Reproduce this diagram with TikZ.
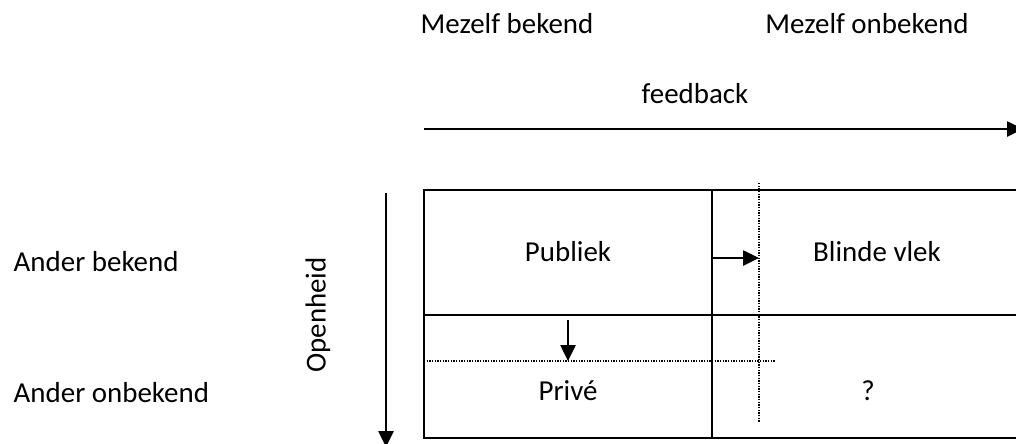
\documentclass[tikz,border=0pt]{standalone}
\usepackage{fontspec}
\setmainfont{Carlito}
\usetikzlibrary{arrows.meta, calc}

\begin{document}
\begin{tikzpicture}[x=0.75pt, y=-0.75pt, line width=1.1pt,
    every node/.style={inner sep=0pt, font=\fontsize{21.7}{26}\selectfont},
    pijl/.style={-{Triangle[length=12pt,width=11.5pt]}},
    stippel/.style={line width=1pt, dash pattern=on 1pt off 1pt}]
    \useasboundingbox (0,0) rectangle (1016,443);

    % kopjes
    \node (mezelfbekend) at (507,24) {Mezelf bekend};
    \node (mezelfonbekend) at (867,24) {Mezelf onbekend};
    \node (feedback) at (695,94) {feedback};
    \node[anchor=west] (anderbekend) at (13,262) {Ander bekend};
    \node[anchor=west] (anderonbekend) at (13,393) {Ander onbekend};
    \node[rotate=90] (openheid) at (318,315) {Openheid};

    % het venster
    \coordinate (lb) at (424,190);
    \coordinate (rb) at (1016,190);
    \coordinate (lm) at (424,315);
    \coordinate (rm) at (1016,315);
    \coordinate (lo) at (424,438);
    \coordinate (ro) at (1016,438);
    \coordinate (mb) at (712,190);
    \coordinate (mo) at (712,438);
    \draw (rb) -- (lb) -- (lo) -- (ro);
    \draw (lm) -- (rm);
    \draw (mb) -- (mo);

    \node (publiek) at (568,252) {Publiek};
    \node (blindevlek) at (877,252) {Blinde vlek};
    \node (prive) at (568,391) {Privé};
    \node (onbekend) at (868,391) {?};

    % verschoven grenzen
    \coordinate (sb) at (759,183);
    \coordinate (so) at (759,423);
    \coordinate (sl) at (424,361);
    \coordinate (sr) at (775,361);
    \draw[stippel] (sb) -- (so);
    \draw[stippel] (sl) -- (sr);

    % pijlen
    \coordinate (fbvan) at (424,129);
    \coordinate (fbnaar) at (1023,129);
    \coordinate (opvan) at (386,193);
    \coordinate (opnaar) at (386,447);
    \coordinate (rechtsvan) at (712,258);
    \coordinate (rechtsnaar) at (759,258);
    \coordinate (omlaagvan) at (568,320);
    \coordinate (omlaagnaar) at (568,361);
    \draw[pijl] (fbvan) -- (fbnaar);
    \draw[pijl] (opvan) -- (opnaar);
    \draw[pijl] (rechtsvan) -- (rechtsnaar);
    \draw[pijl] (omlaagvan) -- (omlaagnaar);
\end{tikzpicture}
\end{document}
